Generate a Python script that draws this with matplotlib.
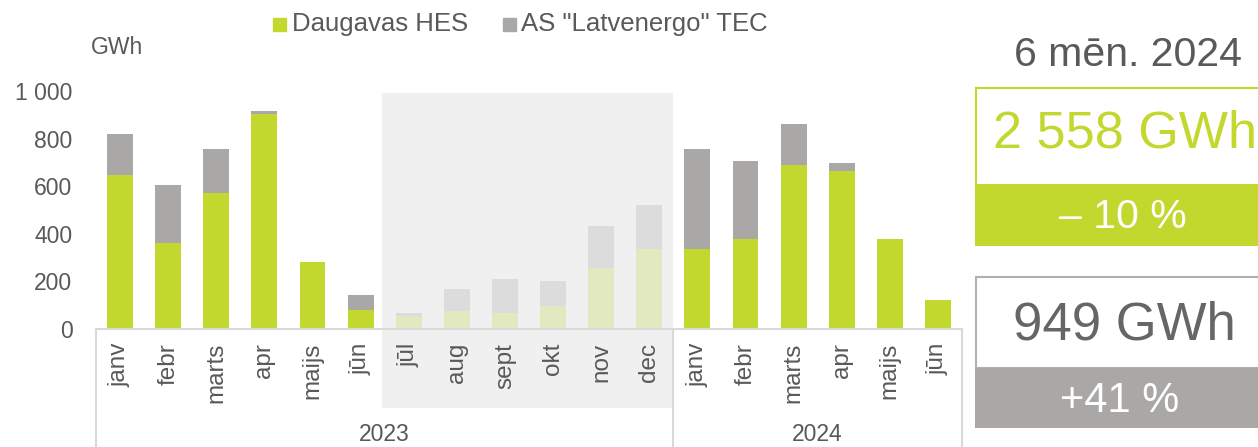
import matplotlib.pyplot as plt
from matplotlib.patches import Rectangle

# dati (GWh)
menesi = ['janv', 'febr', 'marts', 'apr', 'maijs', 'jūn', 'jūl', 'aug', 'sept', 'okt', 'nov', 'dec',
          'janv', 'febr', 'marts', 'apr', 'maijs', 'jūn']
gadi = ['2023', '2024']
hes = [645, 363, 571, 905, 282, 80, 56, 76, 66, 98, 258, 335,
       335, 378, 690, 664, 377, 122]
tec = [175, 242, 185, 11, 0, 63, 11, 92, 144, 104, 175, 186,
       421, 328, 170, 35, 0, 0]
yticks = [0, 200, 400, 600, 800, 1000]
ytick_labels = ['0', '200', '400', '600', '800', '1 000']

kopsavilkums = {'virsraksts': '6 mēn. 2024',
                'hes': '2 558 GWh', 'hes_izm': '– 10 %',
                'tec': '949 GWh', 'tec_izm': '+41 %'}

green = '#c3d82e'
grey = '#a9a8a6'
green_light = '#e2e8c0'
grey_light = '#dcdcdc'
txt = '#595959'
axcol = '#d9d9d9'

plt.rcParams['font.family'] = ['Liberation Sans', 'DejaVu Sans']

W, H = 1258, 447
fig = plt.figure(figsize=(W / 100, H / 100), dpi=100)

def fx(px):
    return px / W

def fy(py):
    return 1 - py / H

ax = fig.add_axes([fx(96), fy(329), fx(962) - fx(96), fy(91) - fy(329)])

x = list(range(len(menesi)))
faded = [6 <= i <= 11 for i in x]
c1 = [green_light if f else green for f in faded]
c2 = [grey_light if f else grey for f in faded]

ax.bar(x, hes, width=0.54, color=c1, zorder=3)
ax.bar(x, tec, width=0.54, bottom=hes, color=c2, zorder=3)

# iekrāsotais apgabals (jūl-dec)
ax.add_patch(Rectangle((5.45, -332), 6.05, 1325, facecolor='#f0f0f0',
                       edgecolor='none', clip_on=False, zorder=0))

ax.set_xlim(-0.5, len(menesi) - 0.5)
ax.set_ylim(0, 1000)
ax.set_yticks(yticks)
ax.set_yticklabels(ytick_labels)
ax.set_xticks(x)
ax.set_xticklabels(menesi, rotation=90, va='top')
ax.tick_params(axis='both', length=0, labelsize=16.5, colors=txt)
ax.tick_params(axis='x', pad=10, labelsize=17.5)
ax.tick_params(axis='y', pad=17)
for s in ['top', 'right', 'left']:
    ax.spines[s].set_visible(False)
ax.spines['bottom'].set_color(axcol)
ax.spines['bottom'].set_linewidth(1.5)
ax.spines['bottom'].set_zorder(4)
ax.patch.set_alpha(0)

# gadu atdalītāji un nosaukumi
for xv in [-0.5, 11.5, 17.5]:
    ax.plot([xv, xv], [0, -520], color=axcol, lw=1.5, clip_on=False, zorder=4)
ax.text(5.5, -492, gadi[0], ha='center', va='bottom', fontsize=16.5, color=txt)
ax.text(14.5, -492, gadi[1], ha='center', va='bottom', fontsize=16.5, color=txt)

fig.text(fx(91), fy(47), 'GWh', ha='left', va='center', fontsize=16.5, color=txt)

# leģenda
fig.patches.append(Rectangle((fx(273), fy(31)), fx(13), fy(18) - fy(31), color=green,
                             transform=fig.transFigure))
fig.text(fx(292), fy(24), 'Daugavas HES', ha='left', va='center', fontsize=18.5, color=txt)
fig.patches.append(Rectangle((fx(503), fy(31)), fx(13), fy(18) - fy(31), color=grey,
                             transform=fig.transFigure))
fig.text(fx(521), fy(24), 'AS "Latvenergo" TEC', ha='left', va='center', fontsize=18.5, color=txt)

# kopsavilkuma bloki labajā pusē
fig.text(fx(1128), fy(55), kopsavilkums['virsraksts'], ha='center', va='center',
         fontsize=29.5, color=txt)

fig.patches.append(Rectangle((fx(976), fy(185)), fx(300), fy(88) - fy(185), facecolor='white',
                             edgecolor=green, lw=1.5, transform=fig.transFigure))
fig.patches.append(Rectangle((fx(975), fy(246)), fx(300), fy(185) - fy(246), facecolor=green,
                             edgecolor='none', transform=fig.transFigure))
fig.text(fx(1125), fy(134), kopsavilkums['hes'], ha='center', va='center',
         fontsize=37.5, color=green)
fig.text(fx(1123), fy(217), kopsavilkums['hes_izm'], ha='center', va='center',
         fontsize=29.5, color='white')

fig.patches.append(Rectangle((fx(976), fy(368)), fx(300), fy(277) - fy(368), facecolor='white',
                             edgecolor='#b0b0b0', lw=1.5, transform=fig.transFigure))
fig.patches.append(Rectangle((fx(975), fy(428)), fx(300), fy(368) - fy(428), facecolor=grey,
                             edgecolor='none', transform=fig.transFigure))
fig.text(fx(1124), fy(326), kopsavilkums['tec'], ha='center', va='center',
         fontsize=38, color='#666666')
fig.text(fx(1120), fy(401), kopsavilkums['tec_izm'], ha='center', va='center',
         fontsize=30, color='white')

fig.savefig('out.png', dpi=100)
